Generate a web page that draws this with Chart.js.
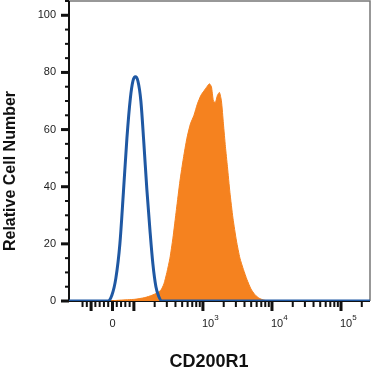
<!DOCTYPE html>
<html>
<head>
<meta charset="utf-8">
<script src="https://cdn.jsdelivr.net/npm/chart.js@4.4.0/dist/chart.umd.min.js"></script>
<style>
  html, body { margin: 0; padding: 0; background: #fff; }
</style>
</head>
<body>
<canvas id="myChart" width="372" height="373"></canvas>
<script>
// x values are in display decades of the biexponential axis (3 = 10^3, 1.69 = 0)

// isotype control (blue outline)
const isoX = [1.06, 1.623, 1.681, 1.739, 1.797, 1.848, 1.899, 1.949, 1.986, 2.022, 2.058,
              2.101, 2.145, 2.188, 2.232, 2.275, 2.319, 2.362, 2.406, 5.42];
const isoY = [0, 0, 2, 8, 20, 38, 57, 71, 77, 78.5, 77, 70, 55, 39, 25, 13, 5, 1.5, 0, 0];

// CD200R1 stained (orange filled)
const cdX = [1.06, 1.623, 1.797, 2.014, 2.159, 2.261, 2.333, 2.391, 2.435, 2.478,
             2.522, 2.565, 2.616, 2.667, 2.717, 2.768, 2.819, 2.870, 2.920, 2.971,
             3.014, 3.058, 3.094, 3.123, 3.152, 3.181, 3.210, 3.239, 3.268, 3.297,
             3.326, 3.355, 3.391, 3.435, 3.486, 3.536, 3.587, 3.638, 3.696, 3.754,
             3.812, 3.884, 3.971, 5.42];
const cdY = [0, 0, 0.3, 0.6, 1.2, 2, 2.8, 3.8, 6, 10,
             15, 22, 32, 42, 50, 57, 62, 65, 69, 72,
             73.5, 75, 76, 75, 70, 69.5, 72, 73, 70, 62,
             54, 47, 38, 29, 21, 15, 11, 7.5, 4.2, 2.2,
             1, 0.3, 0, 0];

// axis ticks
const yTicks = [0, 20, 40, 60, 80, 100];
const yMinor = [5, 10, 15, 25, 30, 35, 45, 50, 55, 65, 70, 75, 85, 90, 95, 105];
const xLabelPos = [1.69, 3, 4, 5];
const xLabelBase = ['0', '10', '10', '10'];
const xLabelExp = ['', '3', '4', '5'];
const xMajor = [1.38, 1.69, 2, 3, 4, 5];
const xLinearMinor = [1.256, 1.318, 1.442, 1.504, 1.566, 1.628, 1.752, 1.814, 1.876, 1.938];

const FONT = '"Liberation Sans", Arial, Helvetica, sans-serif';

// minor log ticks 2..9 inside each decade
const xMinor = xLinearMinor.slice();
for (let d = 2; d <= 4; d++) {
  for (let k = 2; k <= 9; k++) {
    const v = d + Math.log10(k);
    if (v < 5.42) xMinor.push(v);
  }
}
for (let k = 2; k <= 2; k++) xMinor.push(5 + Math.log10(k));

const toPoints = (xs, ys) => xs.map((x, i) => ({ x: x, y: ys[i] }));

const axisDecor = {
  id: 'axisDecor',
  beforeDatasetsDraw(chart) {
    const { ctx, chartArea: a } = chart;
    ctx.save();
    // top and right frame
    ctx.strokeStyle = '#777';
    ctx.lineWidth = 1.5;
    ctx.beginPath();
    ctx.moveTo(a.left, a.top);
    ctx.lineTo(a.right, a.top);
    ctx.lineTo(a.right, a.bottom);
    ctx.stroke();
    // left and bottom axis lines
    ctx.strokeStyle = '#111';
    ctx.lineWidth = 2;
    ctx.beginPath();
    ctx.moveTo(a.left, a.top);
    ctx.lineTo(a.left, a.bottom);
    ctx.lineTo(a.right, a.bottom);
    ctx.stroke();
    ctx.restore();
  },
  afterDraw(chart) {
    const { ctx, chartArea: a } = chart;
    const xs = chart.scales.x;
    const ys = chart.scales.y;
    ctx.save();
    ctx.fillStyle = '#111';

    // y ticks
    yTicks.forEach(v => {
      const py = ys.getPixelForValue(v);
      ctx.fillRect(a.left - 8, py - 1.5, 8, 3);
    });
    yMinor.forEach(v => {
      const py = ys.getPixelForValue(v);
      if (py >= a.top) ctx.fillRect(a.left - 4, py - 1, 4, 2);
    });

    // x ticks
    xMajor.forEach(v => {
      const px = xs.getPixelForValue(v);
      ctx.fillRect(px - 1.5, a.bottom + 1, 3, 9);
    });
    xMinor.forEach(v => {
      const px = xs.getPixelForValue(v);
      ctx.fillRect(px - 1, a.bottom + 1, 2, 5);
    });

    // x tick labels with superscripts
    ctx.fillStyle = '#222';
    ctx.textBaseline = 'middle';
    xLabelPos.forEach((v, i) => {
      const px = xs.getPixelForValue(v);
      ctx.font = '11px ' + FONT;
      if (!xLabelExp[i]) {
        ctx.textAlign = 'center';
        ctx.fillText(xLabelBase[i], px, 324);
      } else {
        ctx.textAlign = 'left';
        ctx.fillText(xLabelBase[i], px - 1, 324);
        const w = ctx.measureText(xLabelBase[i]).width;
        ctx.font = '8px ' + FONT;
        ctx.fillText(xLabelExp[i], px - 1 + w, 318);
      }
    });

    // axis titles
    ctx.fillStyle = '#111';
    ctx.textAlign = 'center';
    ctx.font = 'bold 18px ' + FONT;
    ctx.fillText('CD200R1', 209, 362);

    ctx.translate(11, 171);
    ctx.rotate(-Math.PI / 2);
    ctx.font = 'bold 16px ' + FONT;
    ctx.fillText('Relative Cell Number', 0, 0);
    ctx.restore();
  }
};

const ctx = document.getElementById('myChart').getContext('2d');
const myChart = new Chart(ctx, {
  type: 'line',
  data: {
    datasets: [
      {
        label: 'Isotype',
        data: toPoints(isoX, isoY),
        borderColor: '#1f58a3',
        borderWidth: 3,
        fill: false,
        pointRadius: 0,
        cubicInterpolationMode: 'monotone',
        order: 0
      },
      {
        label: 'CD200R1',
        data: toPoints(cdX, cdY),
        borderColor: '#f5821f',
        backgroundColor: '#f5821f',
        borderWidth: 1,
        fill: 'origin',
        pointRadius: 0,
        tension: 0.2,
        order: 1
      }
    ]
  },
  options: {
    responsive: false,
    animation: false,
    devicePixelRatio: 1,
    layout: { padding: { top: 1, right: 2, left: 0, bottom: 0 } },
    plugins: {
      legend: { display: false },
      tooltip: { enabled: false }
    },
    scales: {
      x: {
        type: 'linear',
        min: 1.06,
        max: 5.42,
        grid: { display: false, drawTicks: false },
        border: { display: false },
        ticks: { display: false },
        afterFit: s => { s.height = 72; s.paddingLeft = 0; s.paddingRight = 0; }
      },
      y: {
        min: 0,
        max: 105,
        grid: { display: false, drawTicks: false },
        border: { display: false },
        afterBuildTicks: s => { s.ticks = yTicks.map(v => ({ value: v })); },
        ticks: {
          padding: 13,
          color: '#222',
          font: { size: 11, family: FONT }
        },
        afterFit: s => { s.width = 69; s.paddingTop = 0; s.paddingBottom = 0; }
      }
    }
  },
  plugins: [axisDecor]
});
</script>
</body>
</html>
